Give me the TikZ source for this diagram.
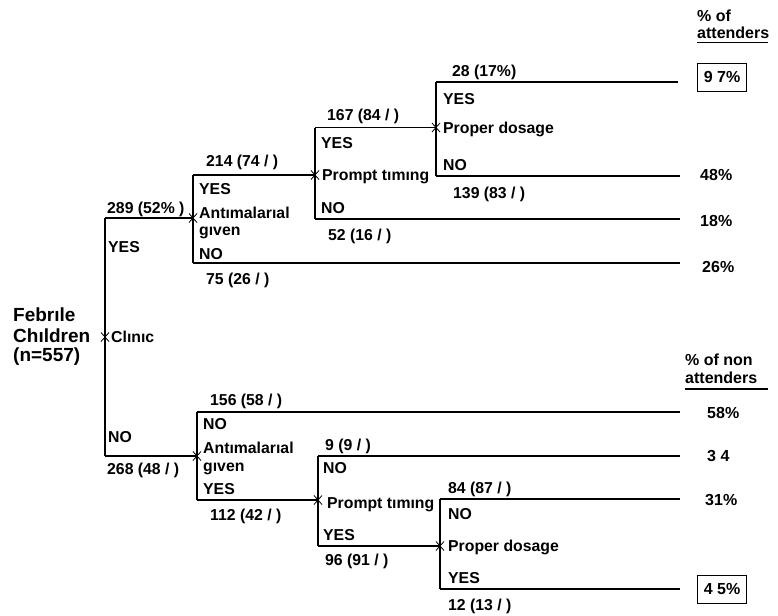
\documentclass[tikz,border=0pt]{standalone}
\usepackage{fontspec}
\setmainfont{Liberation Sans}
\begin{document}
\begin{tikzpicture}[x=1pt,y=-1pt,
  branch/.style={line width=1.1pt, black},
  lbl/.style={anchor=west, inner sep=0pt, font=\fontsize{15.8}{17}\selectfont\bfseries, text height=11.3pt, text depth=0pt},
  big/.style={lbl, font=\fontsize{19}{21}\selectfont\bfseries, text height=13.6pt},
  res/.style={lbl, font=\fontsize{16}{18}\selectfont\bfseries, text height=11.5pt},
  resbox/.style={res, anchor=center, draw, line width=0.9pt, minimum width=49pt, minimum height=28pt},
  jx/.pic={\draw[line width=0.8pt] (-4pt,-4.5pt) -- (4pt,4.5pt) (-4pt,4.5pt) -- (4pt,-4.5pt);}
]
\useasboundingbox (0,0) rectangle (778,615);

% ---------- junction and corner coordinates ----------
\coordinate (c)   at (105,337);
\coordinate (cT)  at (105,218);
\coordinate (cB)  at (105,456);
\coordinate (a1)  at (193,218);
\coordinate (a1T) at (193,175);
\coordinate (a1B) at (193,263);
\coordinate (p1)  at (315,175);
\coordinate (p1T) at (315,127.5);
\coordinate (p1B) at (315,219);
\coordinate (d1)  at (436,127.5);
\coordinate (d1T) at (436,82);
\coordinate (d1B) at (436,176);
\coordinate (e97) at (678,82);
\coordinate (e48) at (680,176);
\coordinate (e18) at (680,219);
\coordinate (e26) at (680,263);
\coordinate (a2)  at (197,456);
\coordinate (a2T) at (197,412);
\coordinate (a2B) at (197,500);
\coordinate (p2)  at (318,500);
\coordinate (p2T) at (318,456);
\coordinate (p2B) at (318,546);
\coordinate (d2)  at (440,546);
\coordinate (d2T) at (440,499);
\coordinate (d2B) at (440,589);
\coordinate (e58) at (680,412);
\coordinate (e34) at (680,456);
\coordinate (e31) at (680,499);
\coordinate (e45) at (680,589);

% ---------- branches ----------
\draw[branch] (cT) -- (cB);
\draw[branch] (cT) -- (a1);
\draw[branch] (cB) -- (a2);
\draw[branch] (a1T) -- (a1B);
\draw[branch] (a1T) -- (p1);
\draw[branch] (a1B) -- (e26);
\draw[branch] (p1T) -- (p1B);
\draw[branch] (p1T) -- (d1);
\draw[branch] (p1B) -- (e18);
\draw[branch] (d1T) -- (d1B);
\draw[branch] (d1T) -- (e97);
\draw[branch] (d1B) -- (e48);
\draw[branch] (a2T) -- (a2B);
\draw[branch] (a2T) -- (e58);
\draw[branch] (a2B) -- (p2);
\draw[branch] (p2T) -- (p2B);
\draw[branch] (p2T) -- (e34);
\draw[branch] (p2B) -- (d2);
\draw[branch] (d2T) -- (d2B);
\draw[branch] (d2T) -- (e31);
\draw[branch] (d2B) -- (e45);

% ---------- junction marks ----------
\pic at (c) {jx};
\pic at (a1) {jx};
\pic at (p1) {jx};
\pic at (d1) {jx};
\pic at (a2) {jx};
\pic at (p2) {jx};
\pic at (d2) {jx};

% ---------- root ----------
\node[big] (feb1) at (13,315) {Febrıle};
\node[big] (feb2) at (13,336) {Chıldren};
\node[big] (feb3) at (13,355) {(n=557)};
\node[lbl] (clinic) at (111,337) {Clınıc};
\node[lbl] (n289) at (107,208) {289 (52\% )};
\node[lbl] (cyes) at (108,247) {YES};
\node[lbl] (cno) at (108,437) {NO};
\node[lbl] (n268) at (107,469) {268 (48 / )};

% ---------- attenders ----------
\node[lbl] (n214) at (206,161) {214 (74 / )};
\node[lbl] (a1yes) at (199,189) {YES};
\node[lbl] (a1t1) at (199,213) {Antımalarıal};
\node[lbl] (a1t2) at (199,230) {gıven};
\node[lbl] (a1no) at (199,254) {NO};
\node[lbl] (n75) at (206,279) {75 (26 / )};

\node[lbl] (n167) at (327,115) {167 (84 / )};
\node[lbl] (p1yes) at (321,143) {YES};
\node[lbl] (p1t) at (322,175) {Prompt tımıng};
\node[lbl] (p1no) at (321,208) {NO};
\node[lbl] (n52) at (328,235) {52 (16 / )};

\node[lbl] (n28) at (452,71) {28 (17\%)};
\node[lbl] (d1yes) at (443,99) {YES};
\node[lbl] (d1t) at (443,128) {Proper dosage};
\node[lbl] (d1no) at (443,165) {NO};
\node[lbl] (n139) at (453,193) {139 (83 / )};

\node[res] (h1a) at (697,16) {\% of};
\node[res] (h1b) at (697,33) {attenders};
\draw[line width=1.1pt] (h1b.south west) ++(0,-4pt) coordinate (u1a) -- ++(71pt,0) coordinate (u1b);
\node[resbox] (r97) at (722,77) {9 7\%};
\node[res] (r48) at (700,175) {48\%};
\node[res] (r18) at (700,221) {18\%};
\node[res] (r26) at (702,267) {26\%};

% ---------- non attenders ----------
\node[lbl] (n156) at (210,400) {156 (58 / )};
\node[lbl] (a2no) at (203,424) {NO};
\node[lbl] (a2t1) at (203,448) {Antımalarıal};
\node[lbl] (a2t2) at (203,466) {gıven};
\node[lbl] (a2yes) at (203,489) {YES};
\node[lbl] (n112) at (210,515) {112 (42 / )};

\node[lbl] (n9) at (325,445) {9 (9 / )};
\node[lbl] (p2no) at (323,468) {NO};
\node[lbl] (p2t) at (327,503) {Prompt tımıng};
\node[lbl] (p2yes) at (323,535) {YES};
\node[lbl] (n96) at (325,560) {96 (91 / )};

\node[lbl] (n84) at (448,488) {84 (87 / )};
\node[lbl] (d2no) at (448,514) {NO};
\node[lbl] (d2t) at (448,546) {Proper dosage};
\node[lbl] (d2yes) at (448,578) {YES};
\node[lbl] (n12) at (448,605) {12 (13 / )};

\node[res] (h2a) at (685,360) {\% of non};
\node[res] (h2b) at (685,378) {attenders};
\draw[line width=1.1pt] (h2b.south west) ++(0,-5pt) coordinate (u2a) -- ++(83pt,0) coordinate (u2b);
\node[res] (r58) at (707,413) {58\%};
\node[res] (r34) at (707,456) {3 4};
\node[res] (r31) at (705,500) {31\%};
\node[resbox] (r45) at (722,589) {4 5\%};
\end{tikzpicture}
\end{document}
